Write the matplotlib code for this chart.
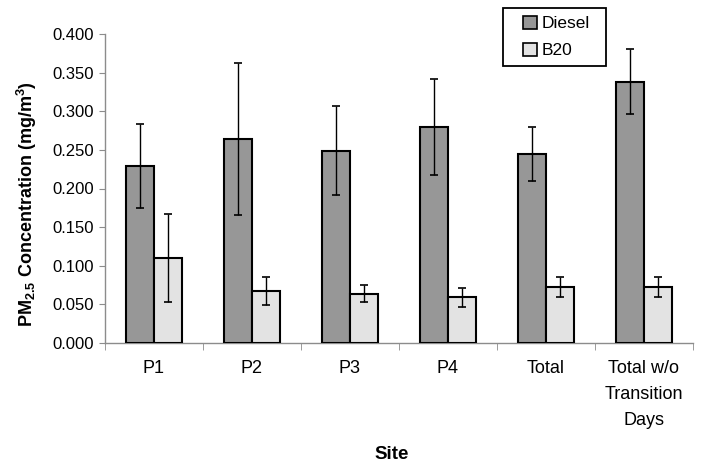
import matplotlib
matplotlib.use("Agg")
import matplotlib.pyplot as plt
import numpy as np
from matplotlib.patches import Patch, Rectangle

plt.rcParams["font.family"] = ["Liberation Sans", "DejaVu Sans"]
plt.rcParams["mathtext.fontset"] = "custom"
plt.rcParams["mathtext.rm"] = "Liberation Sans:bold"
plt.rcParams["mathtext.bf"] = "Liberation Sans:bold"
plt.rcParams["mathtext.default"] = "bf"

# values (mg/m3)
sites = ["P1", "P2", "P3", "P4", "Total", "Total w/o\nTransition\nDays"]
diesel = [0.229, 0.264, 0.249, 0.280, 0.245, 0.338]
diesel_err = [0.054, 0.098, 0.058, 0.062, 0.035, 0.042]
b20 = [0.110, 0.067, 0.064, 0.059, 0.073, 0.073]
b20_err = [0.057, 0.018, 0.011, 0.012, 0.013, 0.013]

DIESEL_C = "#979797"
B20_C = "#e3e3e3"
AXIS_C = "#8c8c8c"

W, H = 704, 471
fig = plt.figure(figsize=(W / 100, H / 100), dpi=100)
ax = fig.add_axes([105 / W, 1 - 343 / H, 588 / W, 309 / H])

x = np.arange(len(sites))
w = 0.29
err_kw = dict(elinewidth=1.0, capthick=1.2, ecolor="black")
ax.bar(x - w / 2, diesel, w, yerr=diesel_err, color=DIESEL_C, edgecolor="black",
       linewidth=1.5, capsize=3.2, error_kw=err_kw, zorder=3)
ax.bar(x + w / 2, b20, w, yerr=b20_err, color=B20_C, edgecolor="black",
       linewidth=1.5, capsize=3.2, error_kw=err_kw, zorder=3)

ax.set_xlim(-0.5, len(sites) - 0.5)
ax.set_ylim(0, 0.4)
ax.set_yticks(np.arange(0, 0.401, 0.05))
ax.yaxis.set_major_formatter(matplotlib.ticker.FormatStrFormatter("%.3f"))

ax.set_xticks(x)
ax.set_xticklabels(sites, linespacing=1.7)
ax.set_xticks(np.arange(-0.5, len(sites), 1.0), minor=True)
ax.tick_params(axis="x", which="major", length=0, pad=12, labelsize=13)
ax.tick_params(axis="x", which="minor", length=5, color=AXIS_C, direction="out")
ax.tick_params(axis="y", length=4, color=AXIS_C, labelsize=12, pad=4)

for s in ["top", "right"]:
    ax.spines[s].set_visible(False)
for s in ["left", "bottom"]:
    ax.spines[s].set_color(AXIS_C)
    ax.spines[s].set_linewidth(1.0)

ax.set_ylabel("PM$_{2.5}$ Concentration (mg/m$^3$)", fontsize=13, fontweight="bold")
ax.yaxis.set_label_coords(-0.133, 0.45)
ax.yaxis.label.set_verticalalignment("center")

ax.set_xlabel("Site", fontsize=13.5, fontweight="bold")
ax.xaxis.set_label_coords(0.488, -0.36)
ax.xaxis.label.set_verticalalignment("center")

# legend box (drawn separately for the wide side padding)
fig.patches.append(Rectangle((503 / W, 1 - 66 / H), 103 / W, 58 / H, transform=fig.transFigure,
                             facecolor="white", edgecolor="black", linewidth=1.3))
handles = [Patch(facecolor=DIESEL_C, edgecolor="black", linewidth=1.2, label="Diesel"),
           Patch(facecolor=B20_C, edgecolor="black", linewidth=1.2, label="B20")]
fig.legend(handles=handles, loc="center left", bbox_to_anchor=(523 / W, 1 - 37 / H),
           fontsize=12.5, frameon=False, handlelength=0.8, handleheight=0.8,
           handletextpad=0.25, borderpad=0, labelspacing=0.65, borderaxespad=0)

fig.savefig("out.png", dpi=100)
